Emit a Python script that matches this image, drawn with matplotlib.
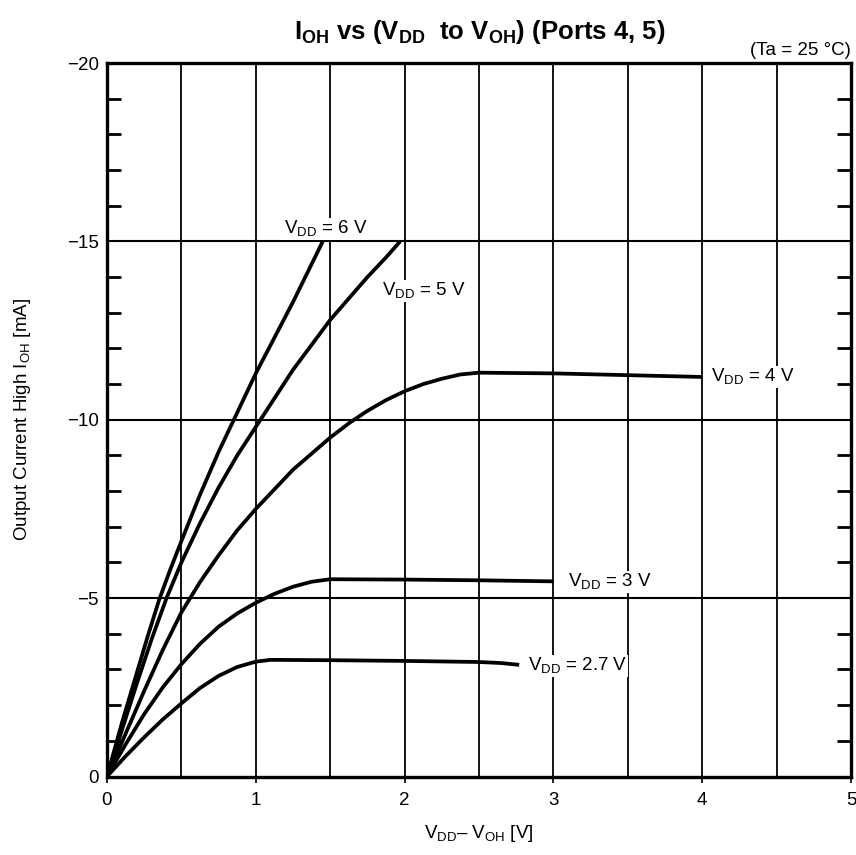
import matplotlib
matplotlib.use("Agg")
import matplotlib.pyplot as plt
from matplotlib.ticker import MultipleLocator

plt.rcParams['font.family'] = ['Liberation Sans', 'DejaVu Sans']
plt.rcParams['mathtext.fontset'] = 'custom'
plt.rcParams['mathtext.rm'] = 'Liberation Sans'
plt.rcParams['mathtext.bf'] = 'Liberation Sans:bold'

# V_DD - V_OH [V] and I_OH [mA]
v_6 = [0, 0.05, 0.1, 0.15, 0.2, 0.275, 0.35, 0.425, 0.5, 0.625, 0.75, 0.875, 1.0, 1.125, 1.25, 1.35, 1.45]
i_6 = [0, -0.75, -1.5, -2.2, -2.9, -3.95, -4.95, -5.8, -6.6, -7.9, -9.1, -10.2, -11.3, -12.3, -13.3, -14.15, -15.0]

v_5 = [0, 0.1, 0.2, 0.3, 0.4, 0.5, 0.625, 0.75, 0.875, 1.0, 1.125, 1.25, 1.375, 1.5, 1.625, 1.75, 1.875, 1.97]
i_5 = [0, -1.3, -2.6, -3.85, -5.0, -6.0, -7.1, -8.1, -9.0, -9.8, -10.6, -11.4, -12.1, -12.8, -13.4, -14.0, -14.55, -15.0]

v_4 = [0, 0.125, 0.25, 0.375, 0.5, 0.625, 0.75, 0.875, 1.0, 1.125, 1.25, 1.375, 1.5, 1.625, 1.75,
       1.875, 2.0, 2.125, 2.25, 2.375, 2.5, 3.0, 3.5, 4.0]
i_4 = [0, -1.2, -2.4, -3.55, -4.6, -5.45, -6.2, -6.9, -7.5, -8.05, -8.6, -9.05, -9.5, -9.9, -10.25,
       -10.55, -10.8, -11.0, -11.15, -11.27, -11.32, -11.3, -11.25, -11.2]

v_3 = [0, 0.125, 0.25, 0.375, 0.5, 0.625, 0.75, 0.875, 1.0, 1.125, 1.25, 1.375, 1.5, 2.0, 2.5, 3.0]
i_3 = [0, -0.9, -1.75, -2.5, -3.15, -3.72, -4.2, -4.57, -4.87, -5.12, -5.32, -5.46, -5.53, -5.52, -5.5, -5.47]

v_27 = [0, 0.125, 0.25, 0.375, 0.5, 0.625, 0.75, 0.875, 1.0, 1.1, 1.5, 2.0, 2.5, 2.65, 2.77]
i_27 = [0, -0.57, -1.1, -1.6, -2.05, -2.48, -2.82, -3.07, -3.22, -3.27, -3.26, -3.24, -3.21, -3.18, -3.13]

curve_labels = [r'V$_{\rm DD}$ = 6 V', r'V$_{\rm DD}$ = 5 V', r'V$_{\rm DD}$ = 4 V',
                r'V$_{\rm DD}$ = 3 V', r'V$_{\rm DD}$ = 2.7 V']
label_pos = [(1.19, -15.35), (1.85, -13.6), (4.06, -11.2), (3.1, -5.45), (2.83, -3.1)]

fig = plt.figure(figsize=(8.56, 8.55), dpi=100)
ax = fig.add_axes([0.125, 0.0918, 0.8692, 0.8345])

for v, i in [(v_6, i_6), (v_5, i_5), (v_4, i_4), (v_3, i_3), (v_27, i_27)]:
    ax.plot(v, i, color='black', lw=2.7, solid_capstyle='butt', solid_joinstyle='round', zorder=3)

for txt, (x, y) in zip(curve_labels, label_pos):
    ax.text(x, y, txt, fontsize=13.5, ha='left', va='center', zorder=4,
            bbox=dict(facecolor='white', edgecolor='none', pad=0.5))

ax.set_xlim(0, 5)
ax.set_ylim(0, -20)

# grid
for gx in [0.5, 1, 1.5, 2, 2.5, 3, 3.5, 4, 4.5]:
    ax.axvline(gx, color='black', lw=1.3, zorder=1)
for gy in [-5, -10, -15]:
    ax.axhline(gy, color='black', lw=1.5, zorder=1)

ax.set_xticks([0, 1, 2, 3, 4, 5])
ax.set_xticklabels(['0', '1', '2', '3', '4', '5'])
ax.set_yticks([0, -5, -10, -15, -20])
ax.set_yticklabels(['0', '\u22125', '\u221210', '\u221215', '\u221220'])
ax.yaxis.set_minor_locator(MultipleLocator(1))
ax.tick_params(axis='x', which='major', direction='out', length=4, width=1.2, labelsize=13.5, pad=7)
ax.tick_params(axis='y', which='major', length=0, labelsize=13.5, pad=6)
ax.tick_params(axis='y', which='minor', direction='in', length=10, width=2,
               left=True, right=True)

for s in ax.spines.values():
    s.set_linewidth(2.4)

ax.set_xlabel('V$_{\\rm DD}$\u2013 V$_{\\rm OH}$ [V]', fontsize=13.5, labelpad=10)
ax.set_ylabel(r'Output Current High I$_{\rm OH}$ [mA]', fontsize=13.5, labelpad=24)

fig.text(0.56, 0.962, r'I$_{\bf OH}$ vs (V$_{\bf DD}$  to V$_{\bf OH}$) (Ports 4, 5)',
         ha='center', va='center', fontsize=18.5, fontweight='bold')
ax.text(1.0, 1.005, '(Ta = 25 \u00b0C)', transform=ax.transAxes, ha='right', va='bottom', fontsize=13.5)

fig.savefig('out.png', dpi=100)
